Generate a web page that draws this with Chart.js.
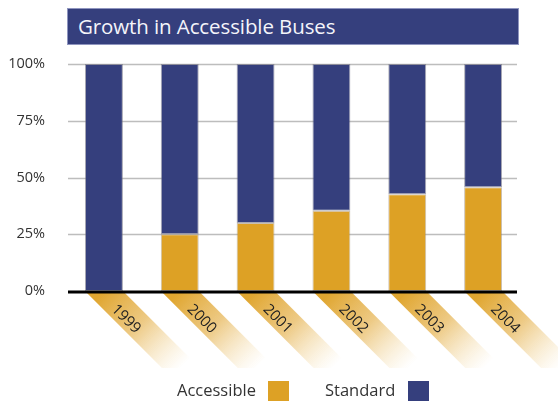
<!DOCTYPE html>
<html>
<head>
<meta charset="utf-8">
<script src="https://cdn.jsdelivr.net/npm/chart.js@4/dist/chart.umd.min.js"></script>
<style>
  body { margin: 0; background: #fff; }
  #wrap { position: relative; width: 558px; height: 401px; overflow: hidden; font-family: "Open Sans", sans-serif; }
  #chart { position: absolute; left: 0; top: 0; }
  #title {
    position: absolute; left: 67px; top: 8px; height: 35px; width: 440px;
    background: #353f7d; border: 1px solid #8f95bf; color: #f4f4fa;
    font-size: 20.5px; line-height: 35px; padding-left: 10px; box-sizing: content-box;
    letter-spacing: -0.1px;
  }
  .lg { position: absolute; top: 378px; font-size: 16.5px; color: #333; line-height: 24px; }
  .sw { position: absolute; top: 381px; width: 21px; height: 21px; }
</style>
</head>
<body>
<div id="wrap">
  <canvas id="chart" width="558" height="401"></canvas>
  <div id="title">Growth in Accessible Buses</div>
  <div class="lg" style="left:177px">Accessible</div>
  <div class="sw" style="left:268px;background:#dda125"></div>
  <div class="lg" style="left:325px">Standard</div>
  <div class="sw" style="left:408px;background:#353f7d"></div>
</div>
<script>
var years = ['1999', '2000', '2001', '2002', '2003', '2004'];
var accessible = [0, 25, 30, 35.3, 42.6, 45.7];
var standard = accessible.map(function(v) { return 100 - v; });
var yTicks = [0, 25, 50, 75, 100];

var gold = '#dda125';
var navy = '#353f7d';

// grid, axis line, diagonal ribbons with year labels
var decor = {
  id: 'decor',
  beforeDatasetsDraw: function(chart) {
    var ctx = chart.ctx, y = chart.scales.y;
    ctx.save();
    ctx.strokeStyle = '#bdbdbd';
    ctx.lineWidth = 1.5;
    yTicks.forEach(function(t) {
      if (t === 0) return;
      var py = Math.round(y.getPixelForValue(t)) + 0.5;
      ctx.beginPath();
      ctx.moveTo(68, py);
      ctx.lineTo(517, py);
      ctx.stroke();
    });
    ctx.restore();
  },
  afterDatasetsDraw: function(chart) {
    var ctx = chart.ctx, y = chart.scales.y;
    var base = y.getPixelForValue(0);
    var meta = chart.getDatasetMeta(0);
    var drop = 77;
    ctx.save();
    meta.data.forEach(function(bar, i) {
      var half = bar.width / 2;
      var x0 = bar.x - half, x1 = bar.x + half;
      var g = ctx.createLinearGradient(bar.x, base, bar.x + drop, base + drop);
      g.addColorStop(0, 'rgba(224,166,48,1)');
      g.addColorStop(0.45, 'rgba(234,192,110,0.85)');
      g.addColorStop(1, 'rgba(244,220,170,0)');
      ctx.fillStyle = g;
      ctx.beginPath();
      ctx.moveTo(x0, base);
      ctx.lineTo(x1, base);
      ctx.lineTo(x1 + drop, base + drop);
      ctx.lineTo(x0 + drop, base + drop);
      ctx.closePath();
      ctx.fill();

      ctx.save();
      ctx.translate(bar.x + 22, base + 28);
      ctx.rotate(Math.PI / 4);
      ctx.fillStyle = '#222';
      ctx.font = '15px "Open Sans"';
      ctx.textAlign = 'center';
      ctx.textBaseline = 'middle';
      ctx.fillText(years[i], 0, 0);
      ctx.restore();
    });
    ctx.strokeStyle = '#000';
    ctx.lineWidth = 3;
    ctx.beginPath();
    ctx.moveTo(68, base + 1);
    ctx.lineTo(517, base + 1);
    ctx.stroke();
    ctx.restore();
  }
};

new Chart(document.getElementById('chart').getContext('2d'), {
  type: 'bar',
  data: {
    labels: years,
    datasets: [
      {
        label: 'Accessible',
        data: accessible,
        backgroundColor: gold,
        borderColor: 'rgba(150,130,100,0.5)',
        borderWidth: 1,
        borderSkipped: false
      },
      {
        label: 'Standard',
        data: standard,
        backgroundColor: navy,
        borderColor: 'rgba(110,110,130,0.6)',
        borderWidth: 1,
        borderSkipped: false
      }
    ]
  },
  options: {
    responsive: false,
    animation: false,
    layout: { padding: { left: 0, right: 37, top: 64, bottom: 110 } },
    plugins: { legend: { display: false }, tooltip: { enabled: false } },
    datasets: { bar: { barPercentage: 0.5, categoryPercentage: 1 } },
    scales: {
      x: {
        stacked: true,
        display: false
      },
      y: {
        stacked: true,
        min: 0,
        max: 100,
        afterBuildTicks: function(scale) {
          scale.ticks = yTicks.map(function(v) { return { value: v }; });
        },
        afterFit: function(scale) { scale.width = 66; },
        grid: { display: false },
        border: { display: false },
        ticks: {
          padding: 13,
          color: '#333',
          font: { family: 'Open Sans', size: 14.5 },
          callback: function(v) { return v + '%'; }
        }
      }
    }
  },
  plugins: [decor]
});
</script>
</body>
</html>
